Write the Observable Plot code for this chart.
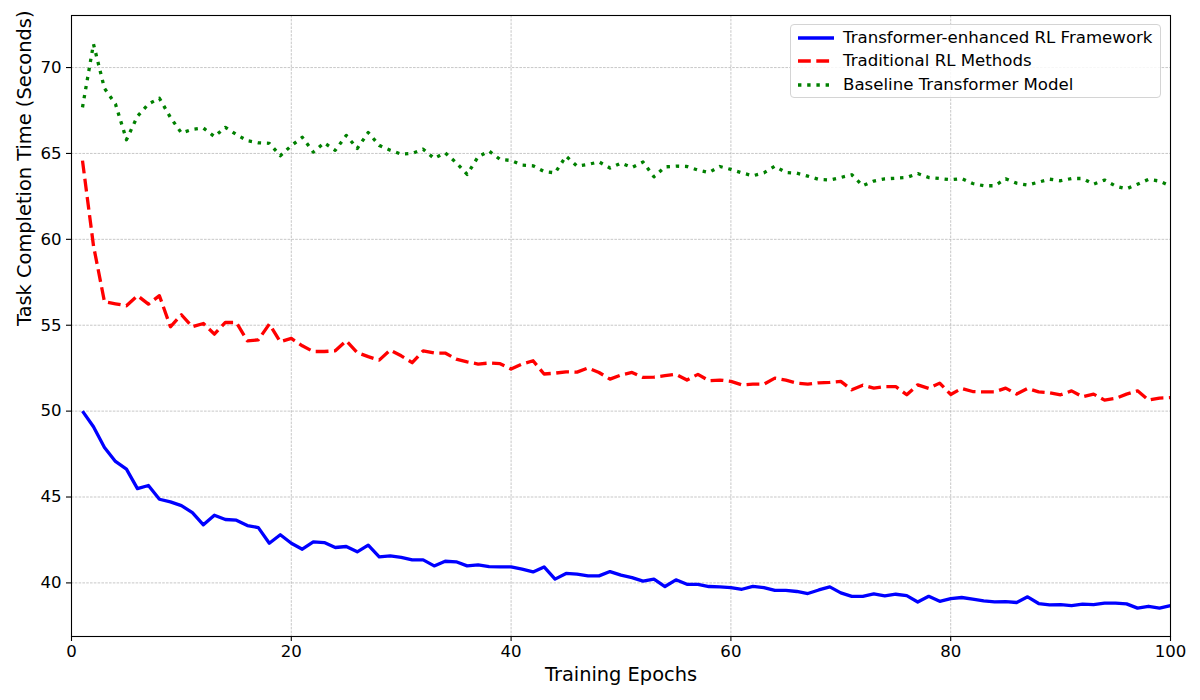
<!DOCTYPE html>
<html><head><meta charset="utf-8">
<script src="https://cdn.jsdelivr.net/npm/d3@7"></script>
<script src="https://cdn.jsdelivr.net/npm/@observablehq/plot@0.6"></script>
<style>
body{margin:0;background:#fff;font-family:"DejaVu Sans",sans-serif;}
#wrap{position:relative;width:1200px;height:700px;overflow:hidden;}
#legend{position:absolute;left:790px;top:24px;width:371px;height:74px;border:1px solid #d4d4d4;border-radius:4px;background:rgba(255,255,255,0.85);box-sizing:border-box;}
.row{position:absolute;left:0;width:100%;height:20px;}
.row svg{position:absolute;left:6px;top:0;}
.row span{position:absolute;left:52px;top:0;line-height:20px;font-size:16.6px;color:#000;white-space:nowrap;}
</style></head><body><div id="wrap"><div id="legend"></div></div>
<script>
const epochs = Array.from({length: 100}, (_, i) => i + 1);

const transformerRL = [
50.0,49.09,47.88,47.07,46.62,45.49,45.67,44.87,44.72,44.5,
44.09,43.38,43.94,43.69,43.65,43.34,43.22,42.31,42.8,42.31,
41.96,42.39,42.35,42.06,42.12,41.81,42.2,41.52,41.57,41.48,
41.34,41.34,40.99,41.26,41.23,40.99,41.05,40.95,40.93,40.93,
40.8,40.64,40.93,40.22,40.55,40.51,40.41,40.41,40.66,40.45,
40.31,40.1,40.22,39.79,40.18,39.92,39.92,39.79,39.77,39.73,
39.63,39.8,39.73,39.57,39.57,39.5,39.38,39.59,39.77,39.42,
39.22,39.22,39.36,39.24,39.34,39.26,38.89,39.22,38.93,39.09,
39.15,39.05,38.95,38.89,38.91,38.86,39.19,38.8,38.72,38.74,
38.68,38.76,38.74,38.82,38.82,38.78,38.53,38.64,38.53,38.68];

const traditionalRL = [
64.58,59.63,56.37,56.25,56.13,56.72,56.23,56.72,54.91,55.61,
54.91,55.1,54.48,55.16,55.16,54.09,54.15,55.07,54.04,54.23,
53.8,53.47,53.47,53.51,54.09,53.41,53.17,52.97,53.55,53.22,
52.82,53.51,53.38,53.38,53.03,52.87,52.74,52.8,52.76,52.45,
52.74,52.93,52.16,52.21,52.29,52.27,52.51,52.25,51.86,52.1,
52.25,51.96,51.98,52.06,52.14,51.81,52.14,51.77,51.81,51.73,
51.53,51.57,51.57,51.92,51.8,51.63,51.57,51.65,51.67,51.73,
51.24,51.51,51.34,51.43,51.43,50.95,51.53,51.32,51.63,50.97,
51.32,51.14,51.12,51.12,51.34,50.99,51.32,51.12,51.07,50.95,
51.18,50.83,50.99,50.64,50.74,50.99,51.18,50.64,50.76,50.79];

const baselineTransformer = [
67.68,71.37,68.79,67.88,65.8,67.16,67.88,68.21,67.1,66.19,
66.4,66.48,65.98,66.52,66.1,65.74,65.62,65.59,64.87,65.45,
65.94,65.08,65.62,65.18,66.05,65.29,66.22,65.47,65.19,64.96,
65.0,65.25,64.71,65.04,64.46,63.78,64.81,65.14,64.65,64.59,
64.32,64.28,63.95,63.87,64.84,64.26,64.36,64.51,64.15,64.44,
64.18,64.5,63.64,64.22,64.26,64.24,64.03,63.89,64.24,64.07,
63.87,63.7,63.87,64.26,63.89,63.85,63.68,63.49,63.45,63.6,
63.76,63.12,63.39,63.52,63.56,63.6,63.83,63.6,63.54,63.47,
63.54,63.25,63.12,63.12,63.52,63.27,63.16,63.33,63.5,63.41,
63.54,63.54,63.21,63.45,63.1,62.94,63.21,63.49,63.39,63.1];

const seriesNames = ["Transformer-enhanced RL Framework", "Traditional RL Methods", "Baseline Transformer Model"];
const xTicks = [0, 20, 40, 60, 80, 100];
const yTicks = [40, 45, 50, 55, 60, 65, 70];
const xLabel = "Training Epochs";
const yLabel = "Task Completion Time (Seconds)";

const seriesStyle = [
  {name: seriesNames[0], values: transformerRL, color: "#0000ff", dash: null},
  {name: seriesNames[1], values: traditionalRL, color: "#ff0000", dash: "12.8,5.5"},
  {name: seriesNames[2], values: baselineTransformer, color: "#008000", dash: "3.4,5.8"}
];

const lineMarks = seriesStyle.map(s => Plot.line(
  epochs.map((e, i) => ({epoch: e, value: s.values[i]})),
  {x: "epoch", y: "value", stroke: s.color, strokeWidth: 3.3,
   strokeDasharray: s.dash || undefined, strokeLinecap: "butt", strokeLinejoin: "round", curve: "linear"}
));

const chart = Plot.plot({
  width: 1200, height: 700,
  marginLeft: 71, marginRight: 30, marginTop: 15, marginBottom: 64,
  style: {fontFamily: "DejaVu Sans", background: "white", color: "black"},
  x: {domain: [0, 100]},
  y: {domain: [36.88, 73.03]},
  marks: [
    Plot.gridX(xTicks, {stroke: "#b0b0b0", strokeOpacity: 1, strokeWidth: 0.7, strokeDasharray: "2.6,1.2"}),
    Plot.gridY(yTicks, {stroke: "#b0b0b0", strokeOpacity: 1, strokeWidth: 0.7, strokeDasharray: "2.6,1.2"}),
    ...lineMarks,
    Plot.frame({stroke: "black", strokeWidth: 1.1}),
    Plot.axisX(xTicks, {tickSize: 5, tickPadding: 4, fontSize: 16.6, label: null, strokeWidth: 1.1}),
    Plot.axisY(yTicks, {tickSize: 5, tickPadding: 5, fontSize: 16.6, label: null, strokeWidth: 1.1}),
    Plot.text([xLabel], {frameAnchor: "bottom", dy: 44, fontSize: 19.4, fill: "black"}),
    Plot.text([yLabel], {frameAnchor: "left", dx: -47, rotate: -90, fontSize: 19.4, fill: "black"})
  ]
});
document.getElementById("wrap").prepend(chart);

const legend = document.getElementById("legend");
const rowCenters = [13, 36, 60];
seriesStyle.forEach((s, i) => {
  const row = document.createElement("div");
  row.className = "row";
  row.style.top = (rowCenters[i] - 10) + "px";
  const dash = s.dash ? `stroke-dasharray="${s.dash}"` : "";
  row.innerHTML = `<svg width="40" height="20"><line x1="1" y1="10" x2="37" y2="10" stroke="${s.color}" stroke-width="3.3" stroke-linecap="butt" ${dash}/></svg><span>${s.name}</span>`;
  legend.appendChild(row);
});
</script>
</body></html>
